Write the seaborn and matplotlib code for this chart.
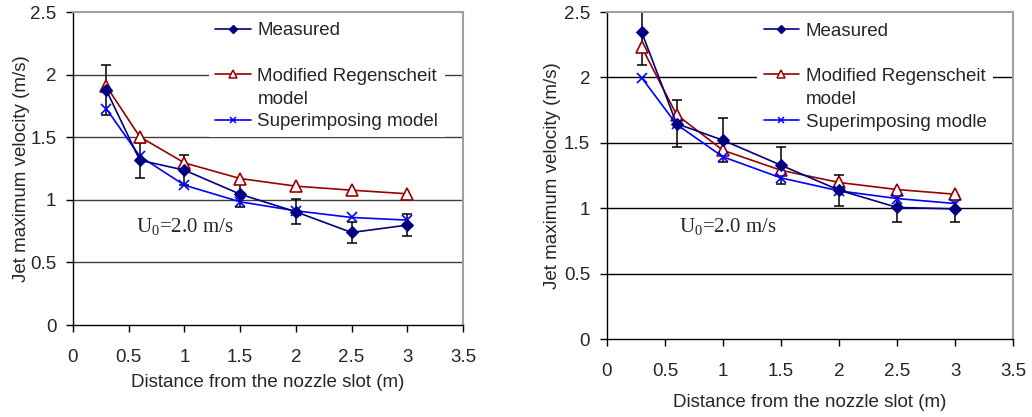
import numpy as np
import pandas as pd
import seaborn as sns
import matplotlib
matplotlib.use("Agg")
import matplotlib.pyplot as plt
from matplotlib.lines import Line2D

# distances from nozzle slot (m)
dist = [0.3, 0.6, 1.0, 1.5, 2.0, 2.5, 3.0]

# left panel
meas_a = [1.875, 1.316, 1.237, 1.045, 0.904, 0.739, 0.798]
err_a = [0.20, 0.14, 0.12, 0.10, 0.10, 0.08, 0.085]
regen_a = [1.907, 1.503, 1.295, 1.170, 1.109, 1.077, 1.048]
super_a = [1.726, 1.348, 1.117, 0.984, 0.912, 0.859, 0.838]

# right panel
meas_b = [2.347, 1.647, 1.520, 1.329, 1.138, 1.006, 0.995]
err_b = [0.25, 0.18, 0.17, 0.14, 0.12, 0.11, 0.10]
regen_b = [2.233, 1.716, 1.443, 1.290, 1.197, 1.143, 1.107]
super_b = [1.998, 1.642, 1.393, 1.232, 1.133, 1.074, 1.036]

labels_a = ["Measured", "Modified Regenscheit", "model", "Superimposing model"]
labels_b = ["Measured", "Modified Regenscheit", "model", "Superimposing modle"]
xticks = [0, 0.5, 1, 1.5, 2, 2.5, 3, 3.5]
yticks = [0, 0.5, 1, 1.5, 2, 2.5]

sns.set_style("white")
plt.rcParams['font.family'] = ['Liberation Sans', 'DejaVu Sans']
plt.rcParams['mathtext.fontset'] = 'custom'
plt.rcParams['mathtext.rm'] = 'Liberation Serif'
plt.rcParams['mathtext.it'] = 'Liberation Serif'

fig = plt.figure(figsize=(10.32, 4.17), dpi=100)
ax1 = fig.add_axes([0.0707, 0.2206, 0.378, 0.7506])
ax2 = fig.add_axes([0.588, 0.187, 0.394, 0.784])

NAVY, RED, BLUE = "#000080", "#990000", "#0000ff"


def panel(ax, meas, err, regen, sup, labs, gridc, txt_xy, leg_x, xpad, ypad):
    df = pd.DataFrame({"x": dist, "meas": meas, "regen": regen, "sup": sup})
    ax.errorbar(dist, meas, yerr=err, fmt="none", ecolor="black",
                elinewidth=1.1, capsize=3.6, capthick=1.1, zorder=2)
    sns.lineplot(data=df, x="x", y="meas", ax=ax, color=NAVY,
                 marker="D", markersize=6, markeredgecolor=NAVY,
                 lw=1.2, zorder=4)
    sns.lineplot(data=df, x="x", y="regen", ax=ax, color=RED,
                 marker="^", markersize=8, markerfacecolor="white",
                 markeredgecolor=RED, markeredgewidth=1.2,
                 lw=1.2, zorder=3)
    sns.lineplot(data=df, x="x", y="sup", ax=ax, color=BLUE,
                 marker="x", markersize=7, markeredgecolor=BLUE,
                 markeredgewidth=1.2, lw=1.2, zorder=3)
    ax.set_xlim(0, 3.5)
    ax.set_ylim(0, 2.5)
    ax.set_xticks(xticks)
    ax.set_xticklabels([f"{t:g}" for t in xticks])
    ax.set_yticks(yticks)
    ax.set_yticklabels([f"{t:g}" for t in yticks])
    ax.tick_params(axis="x", pad=12)
    ax.tick_params(axis="y", pad=7)
    for t in yticks[1:-1]:
        ax.axhline(t, color=gridc, lw=1.0, zorder=0)
    ax.tick_params(axis="both", direction="out", length=5, width=1,
                   color="black", labelsize=13.5, left=True, bottom=True)
    for s in ["left", "bottom"]:
        ax.spines[s].set_color("black")
        ax.spines[s].set_linewidth(1.0)
    for s in ["top", "right"]:
        ax.spines[s].set_color("#a0a0a0")
        ax.spines[s].set_linewidth(1.5)
    ax.set_xlabel("Distance from the nozzle slot (m)", fontsize=13.5, labelpad=xpad)
    ax.set_ylabel("Jet maximum velocity (m/s)", fontsize=13.5, labelpad=ypad)
    ax.text(txt_xy[0], txt_xy[1], r"U$_\mathrm{0}$=2.0 m/s",
            family="Liberation Serif", fontsize=15, va="center", zorder=5)
    handles = [
        Line2D([], [], color=NAVY, marker="D", markersize=4.5, lw=1.2),
        Line2D([], [], color="none"),
        Line2D([], [], color=RED, marker="^", markersize=6,
               markerfacecolor="white", markeredgewidth=1.1, lw=1.2),
        Line2D([], [], color="none"),
        Line2D([], [], color=BLUE, marker="x", markersize=5,
               markeredgewidth=1.1, lw=1.2),
    ]
    names = [labs[0], " ", labs[1], labs[2], labs[3]]
    leg = ax.legend(handles, names, loc="upper left",
                    bbox_to_anchor=(leg_x, 1.0),
                    frameon=True, facecolor="white", edgecolor="none",
                    framealpha=1, fancybox=False, fontsize=13.5,
                    handlelength=1.9, handletextpad=0.35, labelspacing=0.3,
                    borderpad=0.35, borderaxespad=0.2)
    leg.set_zorder(1)


panel(ax1, meas_a, err_a, regen_a, super_a, labels_a, "#404040", (0.57, 0.79), 0.338, 6, 0)
panel(ax2, meas_b, err_b, regen_b, super_b, labels_b, "#000000", (0.62, 0.86), 0.36, 10, 2)

fig.savefig("out.png", dpi=100)
